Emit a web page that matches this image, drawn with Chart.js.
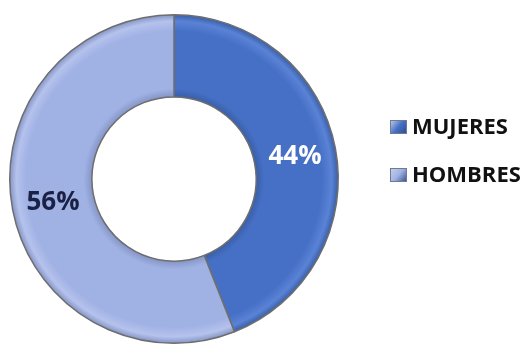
<!DOCTYPE html>
<html>
<head>
<meta charset="utf-8">
<script src="https://cdn.jsdelivr.net/npm/chart.js@4.4.1/dist/chart.umd.min.js"></script>
<style>
    html, body { margin: 0; padding: 0; background: #fff; }
    #wrap { width: 525px; height: 349px; position: relative; }
</style>
</head>
<body>
<div id="wrap"><canvas id="dona"></canvas></div>
<script>
const categorias = ['MUJERES', 'HOMBRES'];
const porcentajes = [44, 56];
const colores = ['#4670c6', '#a0b1e4'];
const coloresTexto = ['#ffffff', '#1b2145'];

const FUENTE = '"Open Sans", "Liberation Sans", sans-serif';

// relleno con brillo en el borde exterior y sombra hacia el hueco
function relleno(ctx) {
    const chart = ctx.chart;
    const base = colores[ctx.dataIndex];
    const meta = chart.getDatasetMeta(0);
    const arc = meta.data[ctx.dataIndex];
    if (!arc || !arc.outerRadius) return base;
    const r0 = arc.innerRadius, r1 = arc.outerRadius;
    const g = chart.ctx.createRadialGradient(arc.x, arc.y, r0, arc.x, arc.y, r1);
    const oscuro = ctx.dataIndex === 0 ? '#3a5fa8' : '#8595c6';
    const claro = ctx.dataIndex === 0 ? '#5a83d6' : '#b5c2ec';
    g.addColorStop(0, oscuro);
    g.addColorStop(0.1, base);
    g.addColorStop(0.8, base);
    g.addColorStop(0.92, claro);
    g.addColorStop(1, oscuro);
    return g;
}

// porcentajes dentro de cada sector
const etiquetas = {
    id: 'etiquetas',
    afterDatasetsDraw(chart) {
        const c = chart.ctx;
        const meta = chart.getDatasetMeta(0);
        c.save();
        c.font = 'bold 26px ' + FUENTE;
        c.textAlign = 'center';
        c.textBaseline = 'middle';
        meta.data.forEach((arc, i) => {
            const p = arc.tooltipPosition();
            c.fillStyle = coloresTexto[i];
            c.fillText(porcentajes[i] + '%', p.x, p.y + 1);
        });
        c.restore();
    }
};

// leyenda a la derecha
const leyenda = {
    id: 'leyenda',
    afterDraw(chart) {
        const c = chart.ctx;
        const x = 390;
        const filas = [127, 175];
        c.save();
        c.font = 'bold 22px ' + FUENTE;
        c.textBaseline = 'middle';
        c.textAlign = 'left';
        chart.data.labels.forEach((txt, i) => {
            const y = filas[i];
            const g = c.createLinearGradient(x, y - 7, x + 17, y + 7);
            g.addColorStop(0, '#c9d2ea');
            g.addColorStop(0.5, colores[i]);
            g.addColorStop(1, '#2f4a86');
            c.fillStyle = g;
            c.fillRect(x, y - 7, 17, 14);
            c.strokeStyle = '#6f7a96';
            c.lineWidth = 1;
            c.strokeRect(x + 0.5, y - 6.5, 16, 13);
            c.fillStyle = '#111111';
            c.fillText(txt, x + 22, y + 1);
        });
        c.restore();
    }
};

const grafico = new Chart(document.getElementById('dona'), {
    type: 'doughnut',
    data: {
        labels: categorias,
        datasets: [{
            data: porcentajes,
            backgroundColor: relleno,
            borderColor: '#6e6e6e',
            borderWidth: 1.5
        }]
    },
    options: {
        responsive: true,
        maintainAspectRatio: false,
        animation: false,
        cutout: '50%',
        layout: { padding: { left: 9, right: 186, top: 14, bottom: 5 } },
        plugins: {
            legend: { display: false },
            tooltip: { enabled: false }
        }
    },
    plugins: [etiquetas, leyenda]
});
// segunda pasada: los degradados necesitan los radios ya calculados
grafico.update();
</script>
</body>
</html>
